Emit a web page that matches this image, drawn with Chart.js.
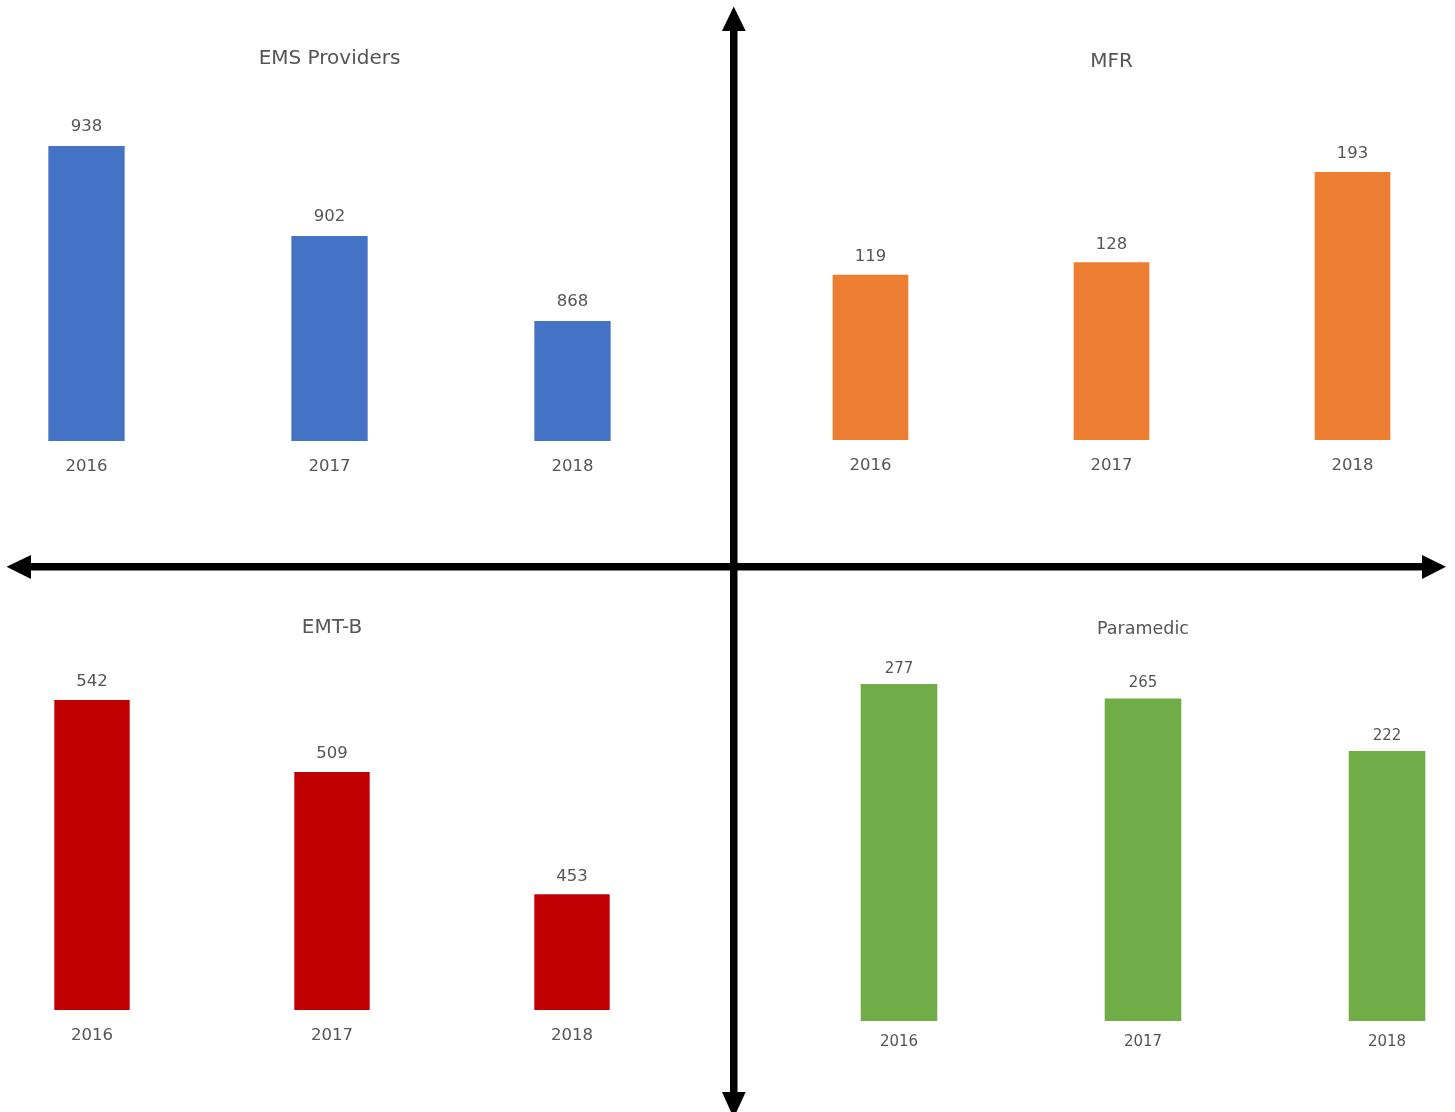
<!DOCTYPE html>
<html>
<head>
<meta charset="utf-8">
<title>EMS Personnel 2016–2018</title>
<script src="https://cdn.jsdelivr.net/npm/chart.js@4.4.1/dist/chart.umd.min.js"></script>
<style>
  html, body { margin: 0; padding: 0; background: #ffffff; }
  body { width: 1455px; height: 1112px; position: relative; overflow: hidden; }
  .panel { position: absolute; }
  .panel canvas { display: block; }
  #axes { position: absolute; left: 0; top: 0; pointer-events: none; }
</style>
</head>
<body>
<div class="panel" id="p-ems"><canvas id="c-ems"></canvas></div>
<div class="panel" id="p-mfr"><canvas id="c-mfr"></canvas></div>
<div class="panel" id="p-emt"><canvas id="c-emt"></canvas></div>
<div class="panel" id="p-para"><canvas id="c-para"></canvas></div>

<svg id="axes" width="1455" height="1112" viewBox="0 0 1455 1112">
  <!-- vertical divider with arrowheads -->
  <rect x="730" y="28" width="7.5" height="1068" fill="#000"/>
  <polygon points="733.7,6.5 722,31 745.7,31" fill="#000"/>
  <polygon points="733.7,1118 722,1092 745.7,1092" fill="#000"/>
  <!-- horizontal divider with arrowheads -->
  <rect x="28" y="563" width="1397" height="7.5" fill="#000"/>
  <polygon points="6.5,566.8 31,555 31,579" fill="#000"/>
  <polygon points="1446,566.8 1422,555 1422,579" fill="#000"/>
</svg>

<script>
// Years shown on every panel
const years = ['2016', '2017', '2018'];

// Counts per certification level
const emsProviders = [938, 902, 868];
const mfr          = [119, 128, 193];
const emtB         = [542, 509, 453];
const paramedic    = [277, 265, 222];

// Panel titles
const titles = ['EMS Providers', 'MFR', 'EMT-B', 'Paramedic'];

const TEXT = '#555555';
const FONT = '"DejaVu Sans", "Open Sans", sans-serif';

// Writes each bar's value just above it
const valueLabels = {
  id: 'valueLabels',
  afterDatasetsDraw(chart, args, opts) {
    const ctx = chart.ctx;
    const meta = chart.getDatasetMeta(0);
    const values = chart.data.datasets[0].data;
    ctx.save();
    ctx.fillStyle = TEXT;
    ctx.font = opts.size + 'px ' + FONT;
    ctx.textAlign = 'center';
    ctx.textBaseline = 'middle';
    meta.data.forEach((bar, i) => {
      ctx.fillText(String(values[i]), bar.x, bar.y - opts.gap);
    });
    ctx.restore();
  }
};

function makePanel(id, box, values, title, color, scale, text) {
  const wrap = document.getElementById('p-' + id);
  wrap.style.left = box.left + 'px';
  wrap.style.top = box.top + 'px';
  const canvas = document.getElementById('c-' + id);
  canvas.width = box.width;
  canvas.height = box.height;
  canvas.style.width = box.width + 'px';
  canvas.style.height = box.height + 'px';

  return new Chart(canvas, {
    type: 'bar',
    data: {
      labels: years,
      datasets: [{
        data: values,
        backgroundColor: color,
        borderWidth: 0,
        barPercentage: 0.314,
        categoryPercentage: 1
      }]
    },
    plugins: [valueLabels],
    options: {
      responsive: false,
      animation: false,
      devicePixelRatio: 1,
      events: [],
      layout: { padding: 0 },
      plugins: {
        legend: { display: false },
        tooltip: { enabled: false },
        title: {
          display: true,
          text: title,
          color: TEXT,
          font: { family: FONT, size: text.title, weight: 'normal' },
          padding: { top: text.titleTop, bottom: text.titleBottom }
        },
        valueLabels: { size: text.value, gap: text.gap }
      },
      scales: {
        x: {
          grid: { display: false, drawTicks: false },
          border: { display: false },
          ticks: {
            color: TEXT,
            padding: text.tickPad,
            font: { family: FONT, size: text.tick }
          },
          afterFit(axis) { axis.height = text.axisHeight; }
        },
        y: {
          display: false,
          min: scale.min,
          max: scale.max
        }
      }
    }
  });
}

makePanel('ems',
  { left: -35.5, top: 20, width: 729, height: 500 },
  emsProviders, titles[0], '#4472C4',
  { min: 820, max: 960 },
  { title: 20, titleTop: 27, titleBottom: 20, value: 16.5, gap: 19, tick: 16.5, tickPad: 15.4, axisHeight: 79 });

makePanel('mfr',
  { left: 749.5, top: 20, width: 723, height: 500 },
  mfr, titles[1], '#ED7D31',
  { min: 0, max: 250 },
  { title: 20, titleTop: 29.5, titleBottom: 19.5, value: 16.5, gap: 18, tick: 16.5, tickPad: 15.4, axisHeight: 80 });

makePanel('emt',
  { left: -28, top: 580, width: 720, height: 520 },
  emtB, titles[2], '#C00000',
  { min: 400, max: 560 },
  { title: 20, titleTop: 36, titleBottom: 20.7, value: 16.5, gap: 18, tick: 16.5, tickPad: 15.4, axisHeight: 90 });

makePanel('para',
  { left: 777, top: 580, width: 732, height: 520 },
  paramedic, titles[3], '#70AD47',
  { min: 0, max: 300 },
  { title: 17.5, titleTop: 38.5, titleBottom: 16.5, value: 15, gap: 15, tick: 15, tickPad: 12, axisHeight: 79 });
</script>
</body>
</html>
